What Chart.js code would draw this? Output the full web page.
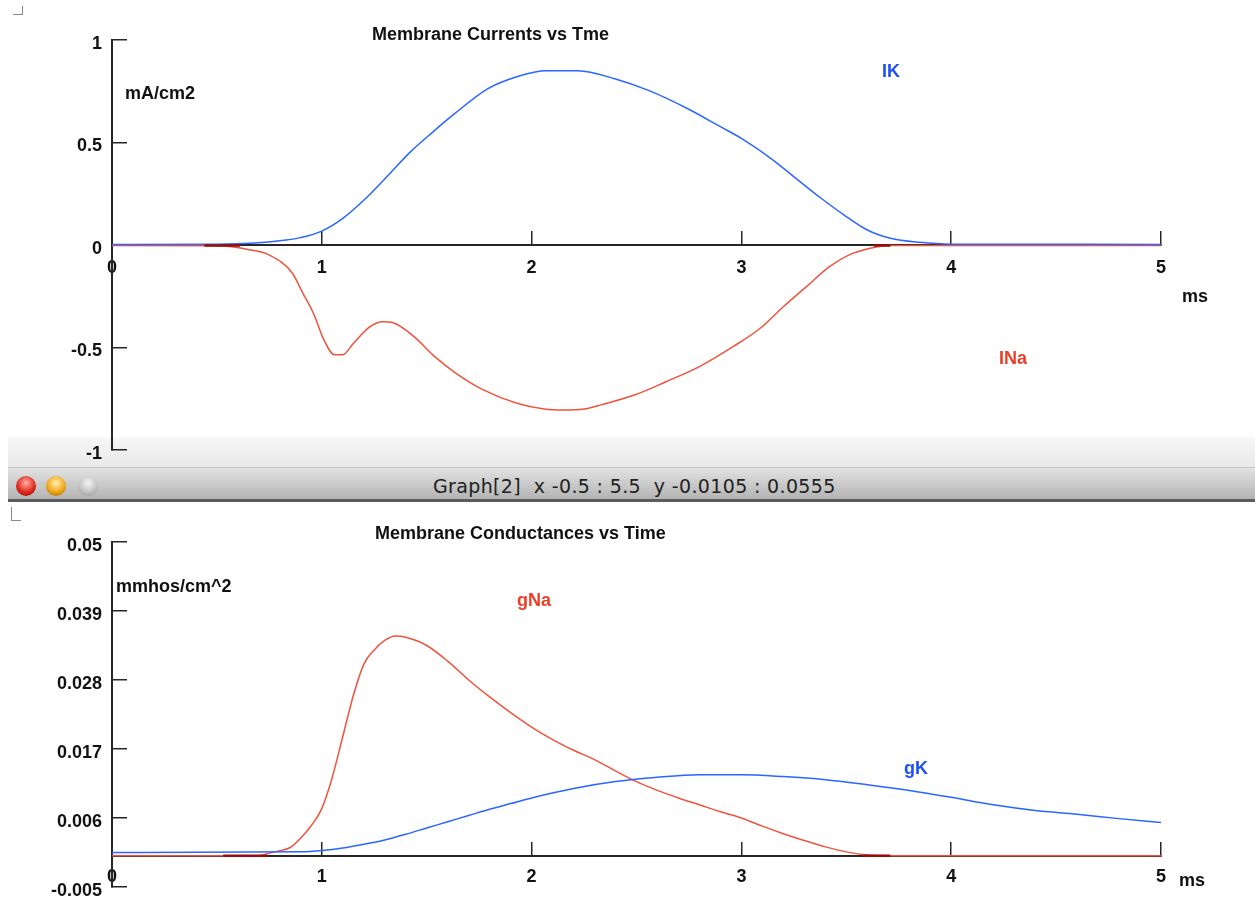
<!DOCTYPE html>
<html>
<head>
<meta charset="utf-8">
<script src="https://cdn.jsdelivr.net/npm/chart.js@4.4.1/dist/chart.umd.min.js"></script>
<style>
  body { margin: 0; width: 1255px; height: 898px; background: #fff; position: relative; overflow: hidden;
         font-family: "Liberation Sans", Arial, sans-serif; }
  canvas { position: absolute; left: 0; }
  #topChart { top: 0; }
  #bottomChart { top: 505px; }
  .lbl { position: absolute; font-weight: bold; font-size: 18px; line-height: 20px; white-space: nowrap; color: #111; }
  .blue { color: #1d4ff5; }
  .red { color: #ea3f26; }
  .corner { position: absolute; border-color: #8a8a8a; border-style: solid; border-width: 0; }
  #winEdge { position: absolute; left: 8px; top: 437px; width: 1247px; height: 30px;
             background: linear-gradient(#f7f7f7, #e9e9e9); border-bottom: 1px solid #c4c4c4; }
  #titleBar { position: absolute; left: 8px; top: 468px; width: 1247px; height: 31px;
              background: linear-gradient(#e2e2e2, #b4b4b4); border-bottom: 3px solid #5c5c5c; }
  .btn { position: absolute; top: 476px; width: 20px; height: 20px; border-radius: 50%; }
  #winTitle { position: absolute; left: 433px; top: 476px; font-family: "DejaVu Sans", sans-serif; font-size: 19px;
              line-height: 20px; white-space: pre; color: #222; letter-spacing: 0.35px; }
</style>
</head>
<body>
<div id="winEdge"></div>
<div id="titleBar"></div>
<div class="btn" style="left:16px;background:radial-gradient(circle at 50% 35%, #ffb0a6, #e0291c 55%, #8c0d06);"></div>
<div class="btn" style="left:46px;background:radial-gradient(circle at 50% 35%, #fff0b0, #f0a818 55%, #9a6200);"></div>
<div class="btn" style="left:78px;background:radial-gradient(circle at 50% 35%, #f4f4f4, #c4c4c4 55%, #8c8c8c);"></div>
<div id="winTitle">Graph[2]  x -0.5 : 5.5  y -0.0105 : 0.0555</div>

<canvas id="topChart" width="1255" height="462"></canvas>
<canvas id="bottomChart" width="1255" height="393"></canvas>

<div class="corner" style="left:13px;top:6px;width:9px;height:8px;border-right-width:1px;border-bottom-width:1px;"></div>
<div class="corner" style="left:11px;top:507px;width:9px;height:13px;border-left-width:1px;border-bottom-width:1px;"></div>

<div class="lbl" style="left:372px;top:24px;">Membrane Currents vs Tme</div>
<div class="lbl" style="left:125px;top:83px;">mA/cm2</div>
<div class="lbl blue" style="left:882px;top:61px;">IK</div>
<div class="lbl" style="left:1182px;top:286px;">ms</div>
<div class="lbl red" style="left:999px;top:348px;">INa</div>

<div class="lbl" style="left:375px;top:523px;">Membrane Conductances vs Time</div>
<div class="lbl" style="left:116px;top:576px;">mmhos/cm^2</div>
<div class="lbl red" style="left:517px;top:590px;">gNa</div>
<div class="lbl blue" style="left:904px;top:758px;">gK</div>
<div class="lbl" style="left:1179px;top:870px;">ms</div>

<script>
// time axis (ms)
const xTicks = [0, 1, 2, 3, 4, 5];

// top graph: membrane currents (mA/cm2)
const topYTicks = [-1, -0.5, 0, 0.5, 1];
const topYLabels = ['-1', '-0.5', '0', '0.5', '1'];

const ikTime = [0, 0.5, 0.66, 0.83, 0.9, 1.0, 1.1, 1.21, 1.33, 1.42, 1.53, 1.63, 1.79, 1.93, 2.07,
                2.22, 2.4, 2.56, 2.74, 2.9, 3.0, 3.14, 3.26, 3.38, 3.49, 3.6, 3.71, 3.85, 4.0, 5.0];
const ikValues = [0.003, 0.004, 0.008, 0.024, 0.036, 0.068, 0.13, 0.228, 0.355, 0.452, 0.552, 0.638, 0.762, 0.821, 0.85,
                  0.85, 0.81, 0.753, 0.667, 0.577, 0.52, 0.423, 0.325, 0.228, 0.146, 0.073, 0.033, 0.013, 0.004, 0.003];

const inaTime = [0, 0.5, 0.66, 0.75, 0.86, 0.91, 0.96, 1.01, 1.06, 1.1, 1.15, 1.23, 1.29, 1.34, 1.44, 1.53,
                 1.64, 1.77, 1.93, 2.06, 2.15, 2.25, 2.33, 2.49, 2.64, 2.8, 2.96, 3.09, 3.2, 3.31, 3.42,
                 3.53, 3.65, 3.7, 5.0];
const inaValues = [-0.003, -0.004, -0.024, -0.049, -0.138, -0.236, -0.333, -0.463, -0.535, -0.535, -0.48, -0.398, -0.374, -0.379, -0.447, -0.537,
                   -0.626, -0.707, -0.772, -0.8, -0.805, -0.8, -0.78, -0.732, -0.667, -0.593, -0.496, -0.406, -0.301, -0.203, -0.106,
                   -0.041, -0.008, -0.003, -0.003];

// bottom graph: membrane conductances (mmhos/cm^2)
const bottomYTicks = [-0.005, 0.006, 0.017, 0.028, 0.039, 0.05];
const bottomYLabels = ['-0.005', '0.006', '0.017', '0.028', '0.039', '0.05'];

const gnaTime = [0, 0.7, 0.75, 0.8, 0.85, 0.9, 0.95, 1.0, 1.05, 1.1, 1.15, 1.2, 1.25, 1.3, 1.35, 1.4, 1.5, 1.6,
                 1.7, 1.8, 1.9, 2.0, 2.1, 2.2, 2.3, 2.4, 2.5, 2.6, 2.7, 2.8, 2.9, 3.0, 3.1, 3.2, 3.3, 3.4,
                 3.5, 3.6, 3.7, 5.0];
const gnaValues = [0, 0, 0.0004, 0.0008, 0.0013, 0.0028, 0.0048, 0.0075, 0.0125, 0.019, 0.0255, 0.0305, 0.0328, 0.0343, 0.035, 0.0348, 0.0335, 0.031,
                   0.028, 0.0253, 0.0228, 0.0205, 0.0185, 0.0168, 0.0153, 0.0135, 0.0118, 0.0104, 0.0092, 0.0081, 0.007, 0.006, 0.0047, 0.0035, 0.0024, 0.0014,
                   0.0006, 0.0001, 0, 0];

const gkTime = [0, 0.9, 1.0, 1.1, 1.2, 1.3, 1.4, 1.5, 1.6, 1.7, 1.8, 1.9, 2.0, 2.2, 2.4, 2.6, 2.8, 3.0, 3.2,
                3.4, 3.6, 3.8, 4.0, 4.2, 4.4, 4.6, 4.8, 5.0];
const gkValues = [0.0005, 0.0006, 0.0008, 0.0012, 0.0018, 0.0025, 0.0034, 0.0044, 0.0054, 0.0064, 0.0074, 0.0083, 0.0092, 0.0107, 0.0118, 0.0125, 0.0129, 0.0129, 0.0126,
                  0.0121, 0.0113, 0.0104, 0.0093, 0.0081, 0.0072, 0.0066, 0.0059, 0.0053];

// short dark stretches where the two traces overlap on the zero line
const overlapTop = [[0.44, 0.61], [3.63, 3.71]];
const overlapBottom = [[0.53, 0.74], [3.58, 3.71]];

const blue = '#2a66ff';
const red = '#f0533b';
const darkRed = '#9a0c08';
const axisColor = '#262626';
const tickFont = { family: '"Liberation Sans", Arial, sans-serif', size: 18, weight: 'bold' };

function toPoints(xs, ys) {
  return xs.map((x, i) => ({ x: x, y: ys[i] }));
}

function segmentPoints(segs, y) {
  const pts = [];
  segs.forEach(s => {
    pts.push({ x: s[0], y: y }, { x: s[1], y: y }, { x: s[1], y: null });
  });
  return pts;
}

function makeChart(id, datasets, yTicks, yLabels, pad, xPad) {
  return new Chart(document.getElementById(id), {
    type: 'line',
    data: { datasets: datasets },
    options: {
      responsive: false,
      animation: false,
      layout: { padding: pad },
      plugins: { legend: { display: false }, tooltip: { enabled: false }, title: { display: false } },
      elements: {
        point: { radius: 0 },
        line: { borderWidth: 1.5, cubicInterpolationMode: 'monotone' }
      },
      scales: {
        x: {
          type: 'linear',
          min: 0, max: 5,
          position: { y: 0 },
          afterFit: s => { s.height = 0; },
          afterBuildTicks: s => { s.ticks = xTicks.map(v => ({ value: v })); },
          ticks: {
            callback: (v, i) => String(xTicks[i]),
            font: tickFont, color: '#111', padding: xPad,
            maxRotation: 0, autoSkip: false
          },
          grid: { drawOnChartArea: false, drawTicks: true, tickLength: -15, color: axisColor, lineWidth: 1.5 },
          border: { display: true, color: axisColor, width: 2 }
        },
        y: {
          type: 'linear',
          min: yTicks[0], max: yTicks[yTicks.length - 1],
          position: 'left',
          afterFit: s => { s.width = 112; s.paddingTop = 0; s.paddingBottom = 0; },
          afterBuildTicks: s => { s.ticks = yTicks.map(v => ({ value: v })); },
          ticks: {
            callback: (v, i) => yLabels[i],
            font: tickFont, color: '#111', padding: 25, labelOffset: 4, autoSkip: false
          },
          grid: { drawOnChartArea: false, drawTicks: true, tickLength: -15, color: axisColor, lineWidth: 1.5 },
          border: { display: true, color: axisColor, width: 2 }
        }
      }
    }
  });
}

// first dataset is painted last, so the dark overlap stretch stays on top
makeChart('topChart', [
  { label: 'overlap', data: segmentPoints(overlapTop, -0.002), borderColor: darkRed, borderWidth: 2.5, spanGaps: false, cubicInterpolationMode: 'default', tension: 0 },
  { label: 'IK', data: toPoints(ikTime, ikValues), borderColor: blue },
  { label: 'INa', data: toPoints(inaTime, inaValues), borderColor: red }
], topYTicks, topYLabels, { left: 0, top: 40, right: 94, bottom: 12 }, 27);

makeChart('bottomChart', [
  { label: 'overlap', data: segmentPoints(overlapBottom, 0), borderColor: darkRed, borderWidth: 2.5, spanGaps: false, cubicInterpolationMode: 'default', tension: 0 },
  { label: 'gK', data: toPoints(gkTime, gkValues), borderColor: blue },
  { label: 'gNa', data: toPoints(gnaTime, gnaValues), borderColor: red }
], bottomYTicks, bottomYLabels, { left: 0, top: 37, right: 94, bottom: 11 }, 26);
</script>
</body>
</html>
